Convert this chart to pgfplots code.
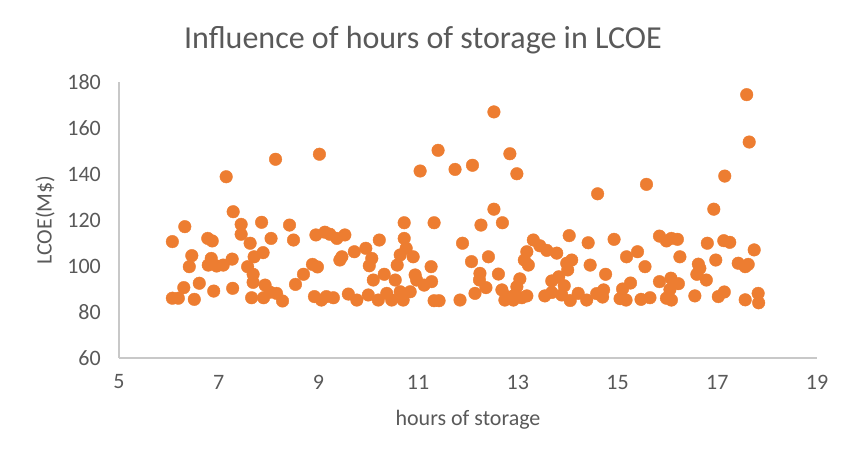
\documentclass[border=0pt]{standalone}
\usepackage{fontspec}
\setmainfont{Carlito}
\usepackage{pgfplots}
\usepackage{pgfplotstable}
\pgfplotsset{compat=1.18}

\definecolor{xlorange}{HTML}{ED7D31}
\definecolor{xltext}{HTML}{595959}
\definecolor{xlaxis}{HTML}{C8C8C8}

% hours of storage vs LCOE
\pgfplotstableread{
h     lcoe
6.07  110.6
6.32  117.1
6.78  112.0
6.87  110.9
7.15  138.8
7.29  123.6
7.45  118.1
7.45  113.8
7.63  109.9
7.86  119.0
8.05  112.0
8.14  146.4
8.42  117.8
8.50  111.3
9.02  148.6
6.46  104.5
6.41  99.7
6.85  103.3
6.79  100.4
6.96  100.0
7.09  100.4
7.27  103.0
7.58  99.7
7.71  104.0
7.89  105.8
7.69  96.4
7.69  92.9
7.93  91.7
8.70  96.4
8.54  92.0
8.88  100.7
8.98  99.6
6.30  90.6
6.61  92.5
6.07  86.0
6.19  86.0
6.51  85.5
6.90  89.1
7.28  90.3
7.66  86.2
7.90  86.2
8.03  88.6
8.16  88.1
8.28  84.8
8.92  86.7
9.06  85.2
9.16  86.7
9.30  86.2
9.60  87.8
9.77  85.2
8.95  113.5
9.13  114.7
9.23  113.8
9.37  112.0
9.53  113.5
9.43  102.6
9.47  104.0
9.72  106.2
9.95  107.7
10.07 103.3
10.02 100.1
10.22 111.3
10.72 112.0
10.72 118.8
11.32 118.8
10.64 104.8
10.76 107.7
10.90 104.0
10.58 100.4
11.26 99.7
11.89 109.9
12.07 101.9
12.41 104.0
12.24 96.8
12.23 93.9
10.10 93.9
10.32 96.4
10.54 93.9
10.94 96.1
10.97 93.9
11.27 93.2
11.12 91.7
12.36 90.6
12.14 88.1
10.00 87.4
10.20 85.2
10.37 88.1
10.47 85.2
10.64 88.8
10.70 85.2
10.84 88.8
11.32 84.9
11.42 84.9
11.84 85.2
11.04 141.3
11.40 150.3
11.74 142.0
12.09 143.8
12.26 117.8
12.52 124.7
12.52 167.0
12.69 118.8
12.84 148.8
12.98 140.1
12.61 96.5
12.68 89.6
12.74 85.2
12.78 86.7
12.91 85.2
12.94 87.4
13.04 94.4
12.98 91.0
13.08 86.2
13.18 87.0
13.18 106.2
13.13 102.6
13.21 100.4
13.31 111.3
13.44 108.8
13.58 106.8
13.78 105.6
13.68 93.5
13.82 95.3
13.93 91.4
13.54 87.0
13.68 88.5
13.88 87.4
14.05 85.0
14.21 88.1
14.38 85.2
14.03 113.2
14.41 110.1
13.98 101.2
14.08 102.6
14.00 98.3
14.45 100.4
14.58 88.0
14.70 86.5
14.72 89.6
14.76 96.4
14.93 111.6
14.60 131.4
15.05 85.8
15.17 85.2
15.10 90.0
15.26 92.6
15.47 85.5
15.65 86.2
15.18 104.0
15.40 106.2
15.55 99.7
15.58 135.5
15.84 113.0
15.98 110.9
16.08 112.0
16.20 111.6
16.25 104.0
15.84 93.2
16.07 94.7
16.22 92.3
16.05 89.8
15.98 86.0
16.08 85.2
16.55 87.0
16.62 100.8
16.65 99.0
16.59 96.4
16.78 93.9
16.80 109.9
16.97 102.6
16.93 124.7
17.13 111.0
17.25 110.3
17.15 139.1
17.74 107.0
17.42 101.2
17.56 99.7
17.62 100.7
17.59 174.5
17.64 153.9
17.02 86.7
17.14 88.7
17.56 85.3
17.82 88.1
17.83 84.0
}\storagedata

\begin{document}
\begin{tikzpicture}
    % page = 844 x 461 (1pt per pixel of the reference)
    \path[use as bounding box] (0pt,0pt) rectangle (844pt,461pt);
    \begin{axis}[
        at     = {(119pt,103pt)},
        anchor = south west,
        scale only axis,
        width  = 698pt,
        height = 276pt,
        % Axes
        xmin = 5,  xmax = 19,
        ymin = 60, ymax = 180,
        xtick = {5,7,...,19},
        ytick = {60,80,...,180},
        separate axis lines,
        axis x line* = bottom,
        axis y line* = left,
        axis line style = {draw=xlaxis, line width=1.2pt, -},
        major tick length = 0pt,
        % Labels
        /pgf/number format/assume math mode = true,
        tick label style = {font=\fontsize{22}{26}\selectfont, text=xltext, inner sep=0pt},
        xticklabel style = {anchor=center, yshift=-24pt},
        yticklabel style = {anchor=east, xshift=-18pt},
        title  = {Influence of hours of storage in LCOE},
        every axis title/.style = {at={(rel axis cs:0.4355,1)}, anchor=center, yshift=42pt,
                                   font=\fontsize{32}{38}\selectfont, text=xltext},
        xlabel = {hours of storage},
        ylabel = {LCOE(M\$)},
        every axis x label/.style = {at={(rel axis cs:0.5,0)}, anchor=center, yshift=-62pt,
                                     font=\fontsize{22}{26}\selectfont, text=xltext},
        every axis y label/.style = {at={(rel axis cs:0,0.5)}, rotate=90, anchor=center, yshift=74pt,
                                     font=\fontsize{22}{26}\selectfont, text=xltext},
        clip = false
    ]
        \addplot[
            only marks,
            mark = *,
            mark size = 6.3pt,
            mark options = {fill=xlorange, draw=xlorange}
        ] table[x=h, y=lcoe] {\storagedata};
    \end{axis}
\end{tikzpicture}
\end{document}
